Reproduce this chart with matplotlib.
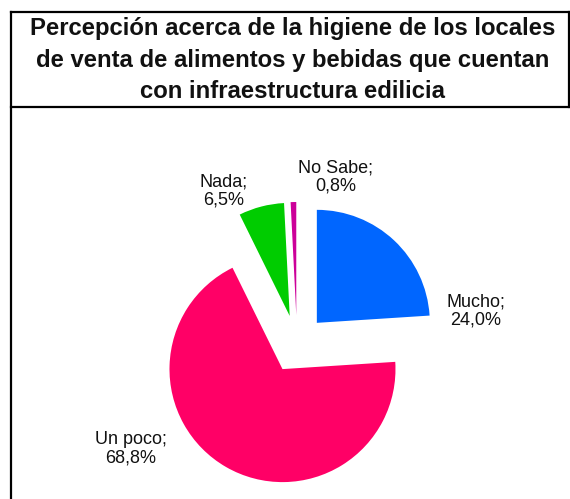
import matplotlib.pyplot as plt
from matplotlib.lines import Line2D

plt.rcParams["font.family"] = ["Liberation Sans", "DejaVu Sans"]

# valores de la encuesta
categorias = ["Mucho", "Un poco", "Nada", "No Sabe"]
porcentajes = [24.0, 68.8, 6.5, 0.8]
colores = ["#0066FF", "#FF0066", "#00CC00", "#CC0099"]

titulo = ("Percepción acerca de la higiene de los locales\n"
          "de venta de alimentos y bebidas que cuentan\n"
          "con infraestructura edilicia")

W, H = 570, 499
fig = plt.figure(figsize=(W / 100, H / 100), dpi=100)
ax = fig.add_axes([0, 0, 1, 1])

# torta con todas las porciones separadas
radio = 113
centro = (297, H - 344)
ax.pie(porcentajes, colors=colores, startangle=90, counterclock=False,
       radius=radio, center=centro, explode=[29] * len(porcentajes),
       wedgeprops={"linewidth": 0}, frame=True)
ax.set_xlim(0, W)
ax.set_ylim(0, H)
ax.set_aspect("equal")
ax.axis("off")

# etiquetas "nombre; valor%"
pos_etiquetas = [(476, 311), (131, 449), (224, 191), (336, 177)]
for nombre, valor, (px, py) in zip(categorias, porcentajes, pos_etiquetas):
    txt = f"{nombre};\n{valor:.1f}%".replace(".", ",")
    ax.text(px, H - py, txt, ha="center", va="center", fontsize=13,
            linespacing=1.15, color="#111111")

# recuadro del título y borde del gráfico
lw = 1.6
for xs, ys in [([11, 569], [12, 12]), ([11, 569], [107, 107]),
               ([569, 569], [12, 107]), ([11, 11], [12, 499])]:
    ax.add_line(Line2D(xs, [H - y for y in ys], color="black", linewidth=lw))

ax.text(293, H - 60, titulo, ha="center", va="center", fontsize=17.2,
        fontweight="bold", linespacing=1.47, color="#111111")

fig.savefig("out.png", dpi=100)
